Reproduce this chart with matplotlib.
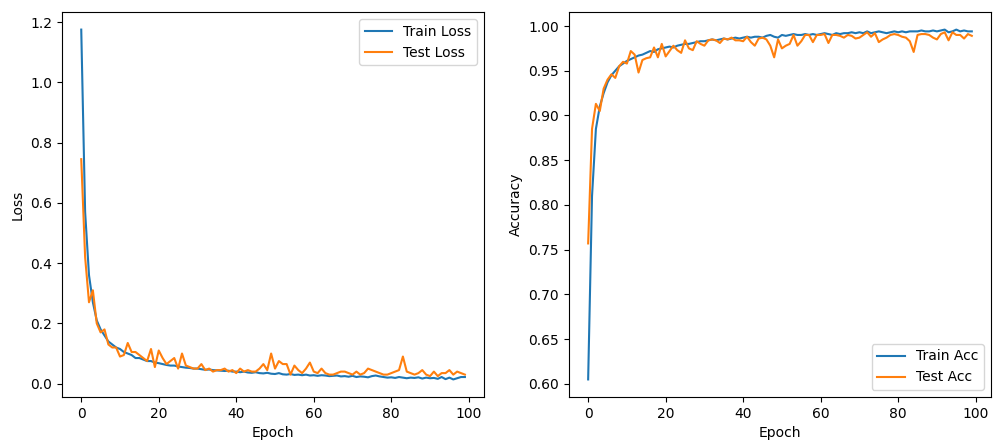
import numpy as np
import matplotlib.pyplot as plt

# Training history (100 epochs)
epochs = np.arange(100)

train_loss = [1.175, 0.57, 0.36, 0.27, 0.21, 0.18, 0.16, 0.14, 0.13, 0.12,
              0.115, 0.105, 0.10, 0.095, 0.085, 0.085, 0.08, 0.075, 0.075, 0.07,
              0.068, 0.065, 0.062, 0.06, 0.06, 0.057, 0.055, 0.053, 0.052, 0.05,
              0.05, 0.048, 0.046, 0.047, 0.045, 0.044, 0.043, 0.042, 0.043, 0.04,
              0.04, 0.038, 0.04, 0.037, 0.036, 0.038, 0.035, 0.034, 0.036, 0.033,
              0.032, 0.035, 0.031, 0.03, 0.032, 0.029, 0.03, 0.028, 0.03, 0.027,
              0.028, 0.026, 0.028, 0.027, 0.025, 0.026, 0.027, 0.024, 0.025, 0.023,
              0.026, 0.022, 0.024, 0.023, 0.021, 0.025, 0.027, 0.024, 0.022, 0.02,
              0.021, 0.019, 0.022, 0.02, 0.018, 0.02, 0.019, 0.021, 0.017, 0.02,
              0.018, 0.019, 0.016, 0.022, 0.015, 0.02, 0.014, 0.018, 0.022, 0.022]

test_loss = [0.745, 0.42, 0.27, 0.31, 0.20, 0.17, 0.18, 0.13, 0.12, 0.12,
             0.09, 0.095, 0.135, 0.105, 0.105, 0.095, 0.085, 0.075, 0.115, 0.055,
             0.11, 0.085, 0.065, 0.075, 0.085, 0.05, 0.10, 0.06, 0.055, 0.05,
             0.05, 0.065, 0.045, 0.05, 0.04, 0.045, 0.045, 0.05, 0.04, 0.045,
             0.035, 0.05, 0.04, 0.045, 0.04, 0.04, 0.05, 0.065, 0.045, 0.10,
             0.05, 0.075, 0.065, 0.065, 0.03, 0.06, 0.045, 0.035, 0.05, 0.07,
             0.04, 0.035, 0.05, 0.035, 0.03, 0.03, 0.035, 0.04, 0.04, 0.035,
             0.03, 0.04, 0.03, 0.035, 0.05, 0.045, 0.04, 0.035, 0.03, 0.03,
             0.035, 0.04, 0.045, 0.09, 0.04, 0.035, 0.03, 0.035, 0.045, 0.03,
             0.025, 0.04, 0.025, 0.035, 0.035, 0.045, 0.03, 0.04, 0.035, 0.03]

train_acc = [0.605, 0.81, 0.885, 0.91, 0.925, 0.937, 0.945, 0.95, 0.955, 0.958,
             0.961, 0.963, 0.965, 0.967, 0.968, 0.97, 0.972, 0.971, 0.974, 0.975,
             0.976, 0.977, 0.976, 0.978, 0.979, 0.98, 0.98, 0.981, 0.982, 0.983,
             0.983, 0.984, 0.985, 0.984, 0.985, 0.986, 0.985, 0.986, 0.987, 0.986,
             0.987, 0.988, 0.987, 0.988, 0.988, 0.987, 0.989, 0.99, 0.988, 0.987,
             0.99, 0.989, 0.99, 0.991, 0.99, 0.99, 0.991, 0.99, 0.991, 0.99,
             0.991, 0.992, 0.991, 0.99, 0.992, 0.991, 0.992, 0.992, 0.993, 0.992,
             0.993, 0.992, 0.994, 0.992, 0.993, 0.994, 0.993, 0.992, 0.993, 0.994,
             0.993, 0.994, 0.993, 0.994, 0.994, 0.994, 0.995, 0.994, 0.994, 0.995,
             0.994, 0.995, 0.996, 0.993, 0.994, 0.996, 0.994, 0.995, 0.994, 0.994]

test_acc = [0.757, 0.885, 0.913, 0.905, 0.93, 0.94, 0.946, 0.942, 0.955, 0.96,
            0.958, 0.972, 0.968, 0.948, 0.962, 0.964, 0.965, 0.976, 0.965, 0.98,
            0.966, 0.972, 0.978, 0.973, 0.97, 0.984, 0.975, 0.973, 0.983, 0.98,
            0.978, 0.984, 0.985, 0.984, 0.981, 0.986, 0.985, 0.987, 0.984, 0.984,
            0.983, 0.988, 0.982, 0.978, 0.986, 0.987, 0.985, 0.978, 0.965, 0.985,
            0.975, 0.978, 0.98, 0.99, 0.978, 0.983, 0.99, 0.99, 0.982, 0.99,
            0.99, 0.991, 0.981, 0.99, 0.99, 0.989, 0.987, 0.99, 0.989, 0.986,
            0.987, 0.99, 0.993, 0.988, 0.992, 0.982, 0.985, 0.987, 0.99, 0.991,
            0.99, 0.988, 0.987, 0.983, 0.971, 0.99, 0.991, 0.991, 0.99, 0.987,
            0.985, 0.991, 0.993, 0.984, 0.993, 0.99, 0.99, 0.986, 0.991, 0.989]

fig = plt.figure(figsize=(10.01, 4.48), dpi=100)
ax1 = fig.add_axes([0.062, 0.114, 0.4216, 0.859])
ax2 = fig.add_axes([0.5684, 0.114, 0.4216, 0.859])

# Loss
ax1.plot(epochs, train_loss, label="Train Loss")
ax1.plot(epochs, test_loss, label="Test Loss")
ax1.set(xlabel="Epoch", ylabel="Loss")
ax1.legend()

# Accuracy
ax2.plot(epochs, train_acc, label="Train Acc")
ax2.plot(epochs, test_acc, label="Test Acc")
ax2.set(xlabel="Epoch", ylabel="Accuracy")
ax2.legend(loc="lower right")

fig.savefig("out.png", dpi=100)
